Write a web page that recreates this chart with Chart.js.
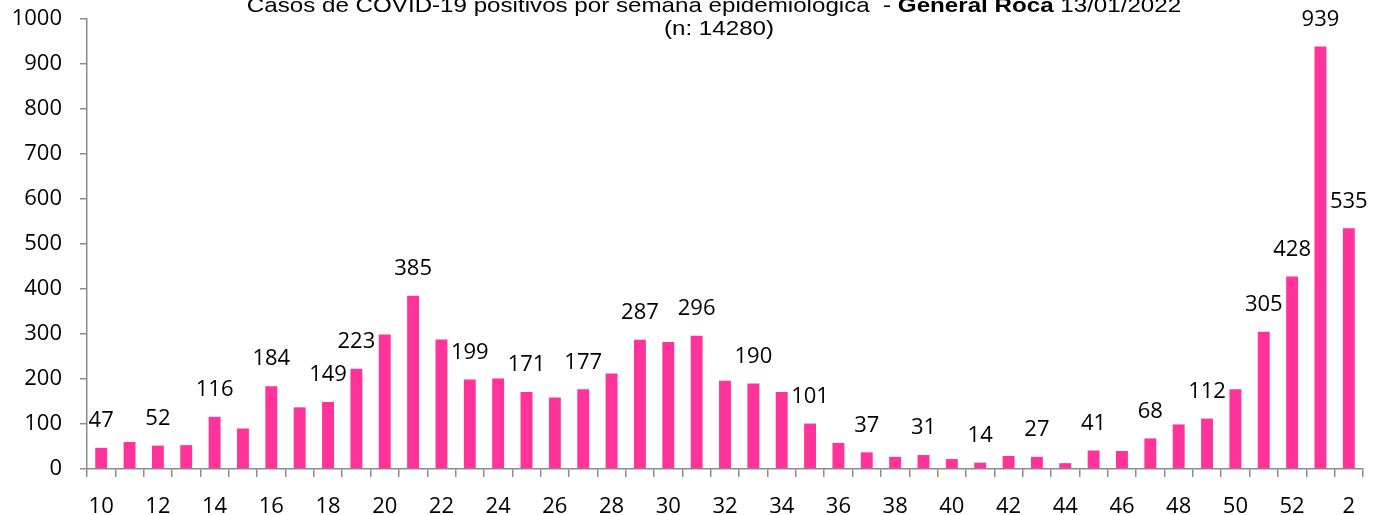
<!DOCTYPE html>
<html>
<head>
<meta charset="utf-8">
<script src="https://cdn.jsdelivr.net/npm/chart.js@4.4.0/dist/chart.umd.min.js"></script>
<style>
    body { margin: 0; background: #fff; }
    #chart-casos { display: block; }
</style>
</head>
<body>
<canvas id="chart-casos" width="1380" height="515"></canvas>
<script>
// Semanas epidemiológicas (2021 -> 2022)
var semanas = ["10", "11", "12", "13", "14", "15", "16", "17", "18", "19", "20", "21", "22", "23", "24",
    "25", "26", "27", "28", "29", "30", "31", "32", "33", "34", "35", "36", "37", "38", "39", "40",
    "41", "42", "43", "44", "45", "46", "47", "48", "49", "50", "51", "52", "1", "2"];

// Casos positivos por semana
var casos = [47, 60, 52, 53, 116, 90, 184, 137, 149, 223, 299, 385, 288, 199, 201,
    171, 159, 177, 212, 287, 282, 296, 196, 190, 171, 101, 58, 37, 27, 31, 22,
    14, 29, 27, 13, 41, 40, 68, 99, 112, 177, 305, 428, 939, 535];

// Semanas que muestran el valor sobre la barra
var semanasConEtiqueta = ["10", "12", "14", "16", "18", "19", "21", "23", "25", "27", "29", "31",
    "33", "35", "37", "39", "41", "43", "45", "47", "49", "51", "52", "1", "2"];

// Etiquetas visibles del eje X
var etiquetasX = ["10", "12", "14", "16", "18", "20", "22", "24", "26", "28", "30", "32", "34",
    "36", "38", "40", "42", "44", "46", "48", "50", "52", "2"];

var marcasY = [0, 100, 200, 300, 400, 500, 600, 700, 800, 900, 1000];

var GraficoCasos = (function () {
    var obj = {};
    var chart = null;
    var fuente = "'Open Sans', 'Noto Sans', sans-serif";
    var colorEje = "#8c8c8c";

    obj.init = function () {
        renderChart();
    };

    // Título con "General Roca" en negrita
    var tituloPlugin = {
        id: "titulo",
        afterDraw: function (c) {
            var ctx = c.ctx;
            var partes = [
                { t: "Casos de COVID-19 positivos por semana epidemiológica  - ", b: false },
                { t: "General Roca", b: true },
                { t: " 13/01/2022", b: false }
            ];
            var normal = "21px 'Liberation Sans', Arial, sans-serif";
            var negrita = "bold 21px 'Liberation Sans', Arial, sans-serif";
            var estirar = 1.15; // el original se ve ensanchado

            ctx.save();
            ctx.fillStyle = "#000";
            ctx.textBaseline = "alphabetic";

            var total = 0;
            partes.forEach(function (p) {
                ctx.font = p.b ? negrita : normal;
                p.w = ctx.measureText(p.t).width;
                total += p.w;
            });

            ctx.save();
            ctx.translate(714, 0);
            ctx.scale(estirar, 1);
            var x = -total / 2;
            ctx.textAlign = "left";
            partes.forEach(function (p) {
                ctx.font = p.b ? negrita : normal;
                ctx.fillText(p.t, x, 12);
                x += p.w;
            });
            ctx.restore();

            ctx.save();
            ctx.translate(719, 0);
            ctx.scale(estirar, 1);
            ctx.font = normal;
            ctx.textAlign = "center";
            ctx.fillText("(n: 14280)", 0, 35);
            ctx.restore();

            ctx.restore();
        }
    };

    // Valores encima de algunas barras
    var etiquetasPlugin = {
        id: "etiquetas",
        afterDatasetsDraw: function (c) {
            var ctx = c.ctx;
            var meta = c.getDatasetMeta(0);

            ctx.save();
            ctx.font = "22px " + fuente;
            ctx.fillStyle = "#000";
            ctx.textAlign = "center";
            ctx.textBaseline = "middle";

            meta.data.forEach(function (barra, i) {
                if (semanasConEtiqueta.indexOf(semanas[i]) === -1) return;
                ctx.fillText(String(casos[i]), barra.x, barra.y - 27);
            });
            ctx.restore();
        }
    };

    function renderChart() {
        var ctx = document.getElementById("chart-casos").getContext("2d");

        if (chart) {
            chart.destroy();
        }

        chart = new Chart(ctx, {
            type: "bar",
            data: {
                labels: semanas,
                datasets: [{
                    label: "Casos",
                    data: casos,
                    backgroundColor: "#ff3399",
                    borderWidth: 0,
                    categoryPercentage: 1,
                    barPercentage: 0.42
                }]
            },
            options: {
                responsive: false,
                animation: false,
                layout: {
                    padding: { top: 19, right: 17, left: 0, bottom: 0 }
                },
                plugins: {
                    legend: { display: false },
                    tooltip: { enabled: false },
                    title: { display: false }
                },
                scales: {
                    x: {
                        grid: {
                            offset: true,
                            drawOnChartArea: false,
                            drawTicks: true,
                            tickLength: 8,
                            color: colorEje,
                            lineWidth: 1.5
                        },
                        border: { color: colorEje, width: 1.5 },
                        ticks: {
                            autoSkip: false,
                            maxRotation: 0,
                            padding: 17,
                            color: "#000",
                            font: { family: fuente, size: 22 },
                            callback: function (value, index) {
                                var lbl = semanas[index];
                                return etiquetasX.indexOf(lbl) !== -1 && index % 2 === 0 ? lbl : "";
                            }
                        },
                        afterFit: function (scale) {
                            scale.height = 46;
                            scale.paddingLeft = 0;
                            scale.paddingRight = 0;
                        }
                    },
                    y: {
                        min: marcasY[0],
                        max: marcasY[marcasY.length - 1],
                        grid: {
                            drawOnChartArea: false,
                            drawTicks: true,
                            tickLength: 7,
                            color: colorEje,
                            lineWidth: 1.5
                        },
                        border: { color: colorEje, width: 1.5 },
                        ticks: {
                            stepSize: marcasY[1] - marcasY[0],
                            padding: 18,
                            color: "#000",
                            font: { family: fuente, size: 22 },
                            callback: function (value) {
                                return String(value);
                            }
                        },
                        afterFit: function (scale) {
                            scale.width = 87;
                            scale.paddingTop = 0;
                            scale.paddingBottom = 0;
                        }
                    }
                }
            },
            plugins: [tituloPlugin, etiquetasPlugin]
        });
    }

    return obj;
}());

GraficoCasos.init();
</script>
</body>
</html>
